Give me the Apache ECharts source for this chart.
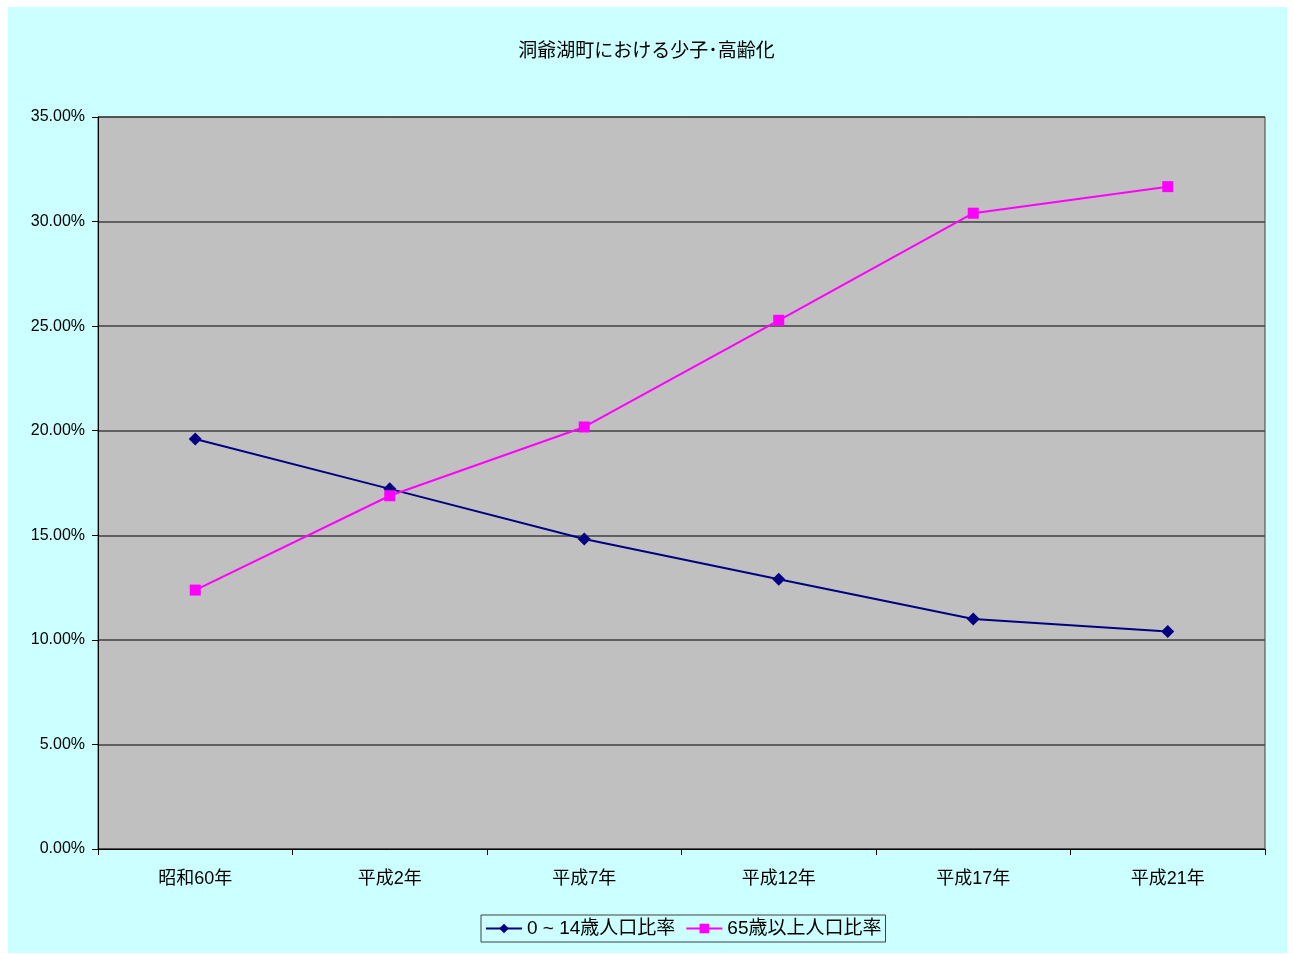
<!DOCTYPE html>
<html>
<head>
<meta charset="utf-8">
<script src="https://cdn.jsdelivr.net/npm/echarts@6/dist/echarts.min.js"></script>
<style>
  html, body { margin: 0; padding: 0; background: #ffffff; }
  #chart { width: 1293px; height: 954px; }
</style>
</head>
<body>
<div id="chart"></div>
<script>
// 洞爺湖町 年少人口・老年人口の比率（%）
const categories = ['昭和60年', '平成2年', '平成7年', '平成12年', '平成17年', '平成21年'];
const youngRatio = [19.60, 17.22, 14.82, 12.90, 11.00, 10.40];
const elderRatio = [12.38, 16.89, 20.18, 25.28, 30.40, 31.67];
const seriesNames = ['0 ~ 14歳人口比率', '65歳以上人口比率'];
const titleText = '洞爺湖町における少子･高齢化';

const fontLatin = '"Liberation Sans", "Noto Sans CJK JP", sans-serif';

const chart = echarts.init(document.getElementById('chart'), null, { renderer: 'canvas' });

chart.setOption({
  backgroundColor: '#ffffff',
  animation: false,
  graphic: [{
    type: 'rect',
    z: -10,
    shape: { x: 8, y: 7, width: 1279, height: 946 },
    style: { fill: '#CCFFFF' }
  }],
  title: {
    text: titleText,
    left: 'center',
    top: 37,
    textStyle: { fontFamily: fontLatin, fontSize: 19, fontWeight: 'normal', color: '#000' }
  },
  legend: {
    bottom: 12,
    left: 481,
    itemWidth: 36,
    itemHeight: 12,
    itemGap: 10,
    padding: [4, 4, 4, 4],
    borderColor: '#404040',
    borderWidth: 1,
    backgroundColor: '#CCFFFF',
    textStyle: { fontFamily: fontLatin, fontSize: 19, color: '#000' },
    data: seriesNames
  },
  grid: {
    left: 98,
    right: 28,
    top: 117,
    bottom: 105,
    show: true,
    backgroundColor: '#C0C0C0',
    borderColor: '#404040',
    borderWidth: 1
  },
  xAxis: {
    type: 'category',
    data: categories,
    boundaryGap: true,
    axisLine: { lineStyle: { color: '#000', width: 1 } },
    axisTick: { show: true, inside: false, length: 6, lineStyle: { color: '#000' } },
    axisLabel: { fontFamily: fontLatin, fontSize: 18, color: '#000', margin: 21 }
  },
  yAxis: {
    type: 'value',
    min: 0,
    max: 35,
    interval: 5,
    axisLine: { show: true, lineStyle: { color: '#000', width: 1 } },
    axisTick: { show: true, inside: false, length: 6, lineStyle: { color: '#000' } },
    axisLabel: {
      fontFamily: fontLatin, fontSize: 16, color: '#000', margin: 13,
      padding: [3, 0, 0, 0],
      formatter: v => v.toFixed(2) + '%'
    },
    splitLine: { show: true, lineStyle: { color: '#404040', width: 1.5 } }
  },
  series: [
    {
      name: seriesNames[0],
      type: 'line',
      data: youngRatio,
      symbol: 'diamond',
      symbolSize: 13,
      lineStyle: { color: '#000080', width: 2 },
      itemStyle: { color: '#000080' }
    },
    {
      name: seriesNames[1],
      type: 'line',
      data: elderRatio,
      symbol: 'rect',
      symbolSize: 11,
      lineStyle: { color: '#FF00FF', width: 2 },
      itemStyle: { color: '#FF00FF' }
    }
  ]
});
</script>
</body>
</html>
